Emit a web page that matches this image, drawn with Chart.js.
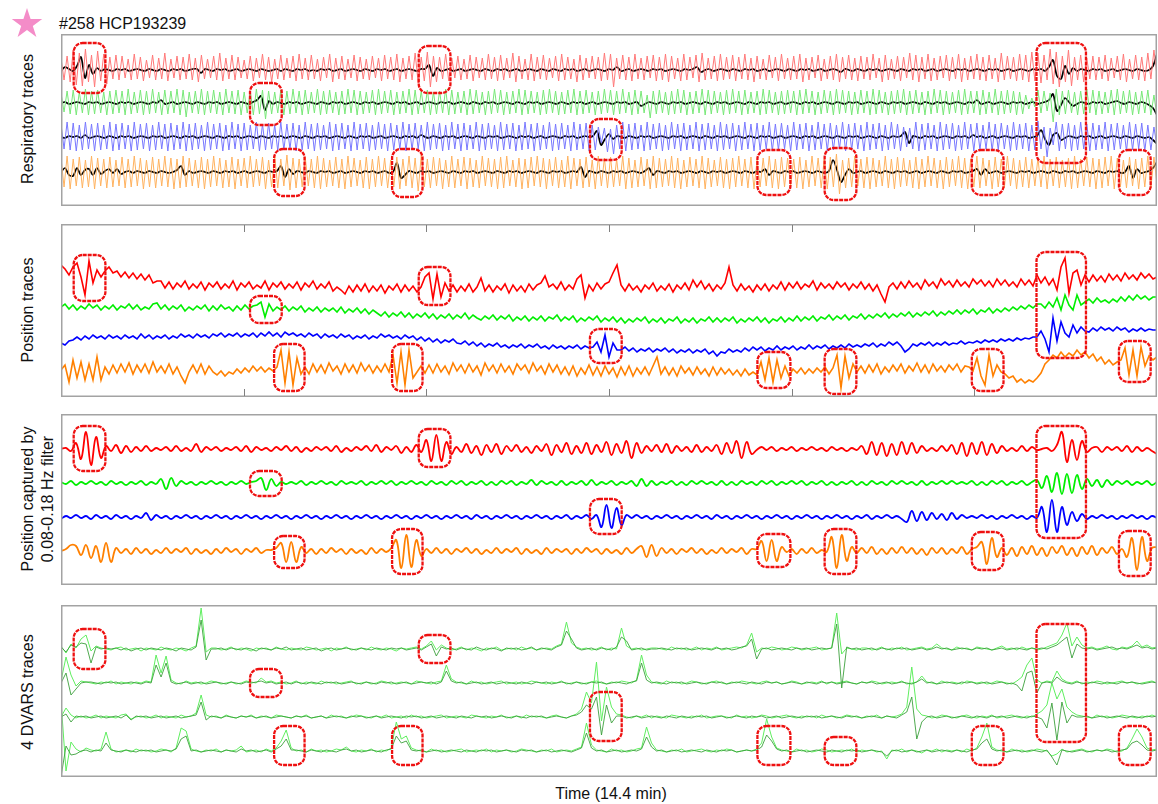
<!DOCTYPE html>
<html>
<head>
<meta charset="utf-8">
<title>HCP193239 traces</title>
<script src="https://cdn.jsdelivr.net/npm/chart.js@4.4.1/dist/chart.umd.min.js"></script>
<style>
  body { margin: 0; background: #fff; width: 1158px; height: 804px; position: relative; overflow: hidden;
         font-family: "Liberation Sans", Arial, Helvetica, sans-serif; color: #111; }
  .panel { position: absolute; left: 61px; width: 1096px; }
  .panel canvas { display: block; }
  .ylab { position: absolute; white-space: nowrap; font-size: 16px; line-height: 16px; text-align: center;
          transform: translate(-50%, -50%) rotate(-90deg); }
  .ylab.two { line-height: 20px; }
  #title { position: absolute; left: 59px; top: 16px; font-size: 16px; line-height: 16px; }
  #xlab { position: absolute; left: 611px; top: 786px; font-size: 16px; line-height: 16px;
          transform: translateX(-50%); white-space: nowrap; }
  #star { position: absolute; left: 0; top: 0; }
</style>
</head>
<body>
<svg id="star" width="50" height="45"><polygon fill="#f48cc8" points="27,8 30.59,19.06 42.22,19.06 32.8,25.88 36.4,36.94 27,30.1 17.6,36.94 21.2,25.88 11.78,19.06 23.41,19.06"/></svg>
<div id="title">#258 HCP193239</div>

<div class="panel" style="top:34px;height:172px"><canvas id="p1" width="1096" height="172"></canvas></div>
<div class="panel" style="top:224px;height:173px"><canvas id="p2" width="1096" height="173"></canvas></div>
<div class="panel" style="top:414px;height:171px"><canvas id="p3" width="1096" height="171"></canvas></div>
<div class="panel" style="top:605px;height:172px"><canvas id="p4" width="1096" height="172"></canvas></div>

<div class="ylab" style="left:28px;top:119px">Respiratory traces</div>
<div class="ylab" style="left:28px;top:310px">Position traces</div>
<div class="ylab two" style="left:38px;top:499px">Position captured by<br>0.08-0.18 Hz filter</div>
<div class="ylab" style="left:28px;top:692px">4 DVARS traces</div>
<div id="xlab">Time (14.4 min)</div>

<script>
// scan length in seconds (1200 frames x 0.72 s = 14.4 min)
const TIME_MAX = 864;
const TIME_TICKS = [144, 288, 432, 576, 720];

// marked events (seconds) and which traces they cover
const EVENT_START = [10, 282, 149, 417, 769, 168, 261, 549, 602, 718, 834];
const EVENT_END   = [35, 307, 174, 442, 808, 192, 285, 575, 627, 743, 859];
const EVENT_FIRST = [0, 0, 1, 2, 0, 3, 3, 3, 3, 3, 3];
const EVENT_LAST  = [0, 0, 1, 2, 2, 3, 3, 3, 3, 3, 3];

// ---- respiratory traces (raw, peak / trough per breath) ----
const RESP_RED = [
12,-10,14,-12,20,-15,17,-16,21,-12,15,-17,19,-11,16,-14,13,-9,15,-10,
14,-8,11,-10,16,-9,13,-11,10,-8,15,-10,12,-9,17,-11,11,-8,14,-10,
13,-9,16,-10,12,-12,15,-9,11,-8,14,-10,17,-11,12,-9,15,-10,13,-8,
10,-9,14,-11,12,-8,16,-10,13,-12,11,-9,15,-10,12,-8,14,-11,16,-9,
12,-10,15,-9,11,-11,13,-8,16,-12,12,-9,14,-10,11,-8,15,-11,13,-9,
11,-10,14,-8,12,-11,15,-9,13,-10,16,-12,12,-9,14,-10,17,-13,13,-11,
18,-17,14,-12,13,-9,16,-11,12,-8,14,-10,11,-9,15,-11,13,-8,12,-10,
16,-9,13,-11,15,-10,12,-8,17,-12,14,-9,11,-10,16,-11,13,-9,15,-10,
12,-8,14,-11,16,-10,13,-9,11,-12,15,-10,12,-8,14,-9,13,-11,17,-10,
16,-17,12,-9,15,-10,13,-11,16,-9,12,-10,14,-8,15,-11,13,-10,16,-12,
14,-9,12,-11,16,-10,13,-8,15,-12,17,-10,12,-9,14,-11,16,-10,13,-9,
15,-11,13,-9,16,-10,12,-12,14,-9,11,-10,15,-8,13,-11,16,-9,12,-10,
14,-9,16,-12,12,-10,13,-8,15,-11,11,-9,14,-10,16,-12,13,-9,15,-10,
12,-11,14,-9,13,-10,16,-8,12,-12,15,-10,11,-9,14,-11,13,-8,17,-10,
15,-12,13,-9,16,-11,12,-10,14,-8,15,-11,13,-9,16,-12,12,-10,14,-9,
16,-10,13,-11,15,-9,12,-12,17,-10,14,-9,13,-11,16,-10,15,-12,18,-11,
17,-13,15,-10,21,-14,18,-17,14,-12,20,-16,13,-10,15,-12,12,-9,14,-10,
13,-9,15,-11,12,-8,14,-10,16,-12,11,-9,15,-10,13,-11,17,-9,20,-6
];
const RESP_GREEN = [
10,-9,12,-11,13,-12,11,-10,14,-12,12,-11,13,-10,11,-12,12,-11,13,-10,
12,-12,14,-11,11,-10,13,-12,12,-11,14,-10,11,-12,13,-11,12,-10,14,-12,
13,-14,11,-10,12,-11,14,-12,12,-10,13,-11,11,-12,14,-10,12,-11,13,-12,
11,-10,12,-12,14,-11,13,-16,12,-11,11,-10,13,-12,12,-11,14,-10,12,-12,
13,-11,11,-10,14,-12,12,-11,13,-10,11,-12,12,-11,14,-10,13,-12,12,-11,
11,-10,13,-12,14,-11,12,-10,13,-12,11,-11,12,-10,14,-12,13,-11,12,-10,
13,-12,11,-11,12,-10,14,-12,13,-11,11,-10,12,-12,14,-11,13,-10,11,-12,
12,-11,14,-10,13,-12,11,-11,12,-10,14,-12,13,-11,12,-10,11,-12,13,-11,
14,-10,12,-12,11,-11,13,-10,14,-12,12,-11,13,-10,11,-12,12,-11,14,-10,
13,-12,12,-11,14,-10,11,-12,13,-11,12,-10,8,-15,12,-11,13,-10,11,-12,
12,-11,14,-10,13,-12,11,-11,12,-10,14,-12,13,-11,12,-10,11,-12,13,-11,
14,-10,12,-12,13,-11,11,-10,12,-12,14,-11,13,-10,11,-12,12,-11,13,-10,
12,-12,13,-11,14,-10,12,-12,11,-11,13,-10,12,-12,14,-11,13,-10,12,-12,
11,-11,13,-10,12,-12,14,-11,13,-10,11,-12,12,-11,13,-10,14,-12,12,-11,
13,-10,11,-12,12,-11,14,-10,13,-12,12,-11,11,-10,13,-12,14,-11,12,-10,
12,-12,13,-11,11,-10,14,-12,12,-11,13,-10,12,-12,11,-11,8,-6,5,-4,
13,-10,12,-8,10,-19,14,-12,12,-11,13,-10,11,-12,12,-11,14,-10,13,-12,
12,-11,11,-10,13,-12,14,-11,12,-10,13,-12,11,-11,12,-10,13,-12,8,-14
];
const RESP_BLUE = [
13,-12,15,-13,14,-14,12,-13,15,-12,13,-14,14,-13,12,-12,15,-14,13,-13,
14,-12,12,-14,15,-13,13,-12,14,-14,12,-13,15,-12,13,-14,14,-13,12,-12,
15,-14,13,-13,14,-12,12,-14,15,-13,13,-12,14,-14,12,-13,15,-12,13,-14,
14,-13,12,-12,15,-14,13,-13,14,-12,12,-14,15,-13,13,-12,14,-14,12,-13,
15,-12,13,-14,14,-13,12,-12,15,-14,13,-13,14,-12,12,-14,15,-13,13,-12,
14,-14,12,-13,15,-12,13,-14,14,-13,12,-12,15,-14,13,-13,14,-12,12,-14,
15,-13,13,-12,14,-14,12,-13,15,-12,13,-14,14,-13,12,-12,15,-14,13,-13,
14,-12,12,-14,15,-13,13,-12,14,-14,12,-13,15,-12,13,-14,14,-13,12,-12,
15,-14,13,-13,14,-12,12,-14,15,-13,13,-12,14,-14,12,-13,10,-6,9,-15,
8,-17,12,-12,15,-14,13,-13,14,-12,12,-14,15,-13,13,-12,14,-14,12,-13,
15,-12,13,-14,14,-13,12,-12,15,-14,13,-13,14,-12,12,-14,15,-13,13,-12,
14,-14,12,-13,15,-12,13,-14,14,-13,12,-12,15,-14,13,-13,14,-12,12,-14,
15,-13,13,-12,14,-14,12,-13,15,-12,13,-14,14,-13,12,-12,15,-14,13,-13,
14,-12,12,-14,15,-13,13,-12,14,-14,12,-13,15,-12,13,-14,10,-10,9,-12,
15,-14,13,-13,14,-12,12,-14,15,-13,13,-12,14,-14,12,-13,15,-12,13,-14,
14,-13,12,-12,15,-14,13,-13,14,-12,12,-14,15,-13,13,-12,14,-14,12,-13,
16,-12,10,-20,9,-8,15,-14,13,-12,14,-14,12,-13,15,-12,13,-14,14,-13,
12,-12,15,-14,13,-13,14,-12,12,-14,15,-13,13,-12,14,-14,12,-13,10,-10
];
const RESP_ORANGE = [
14,-15,16,-17,13,-14,15,-16,12,-15,16,-17,14,-14,13,-16,15,-15,12,-14,
15,-16,13,-15,16,-14,14,-17,12,-15,15,-16,13,-14,16,-15,14,-17,13,-16,
16,-15,14,-14,12,-16,15,-17,13,-15,16,-14,14,-16,12,-15,15,-17,13,-14,
14,-16,16,-15,13,-14,15,-17,12,-15,16,-16,13,-14,17,-18,14,-16,13,-15,
15,-14,13,-16,16,-17,14,-15,12,-14,15,-16,13,-17,16,-15,14,-14,12,-16,
15,-17,13,-15,16,-14,14,-16,12,-15,15,-17,13,-14,16,-16,14,-19,17,-15,
13,-16,15,-14,14,-17,12,-15,16,-16,13,-14,15,-17,14,-15,12,-16,16,-14,
14,-15,13,-17,15,-16,16,-14,12,-15,14,-17,13,-16,15,-14,16,-15,14,-17,
13,-14,15,-16,12,-15,16,-17,14,-14,13,-16,15,-15,12,-17,16,-14,14,-16,
15,-15,13,-14,16,-17,14,-16,12,-15,15,-14,13,-17,16,-16,14,-15,13,-14,
16,-16,14,-17,12,-15,15,-14,13,-16,16,-17,14,-15,12,-14,15,-16,13,-17,
14,-15,16,-14,13,-16,15,-17,12,-15,14,-14,16,-16,13,-17,15,-15,14,-14,
13,-16,15,-17,12,-15,16,-14,14,-16,13,-17,15,-15,18,-22,12,-16,14,-15,
16,-14,13,-16,15,-17,14,-15,12,-14,16,-16,13,-17,15,-15,14,-14,12,-16,
15,-17,13,-15,16,-14,14,-16,12,-17,15,-15,13,-14,16,-16,14,-17,13,-15,
16,-16,14,-14,12,-17,15,-15,13,-16,16,-14,14,-17,12,-15,15,-16,13,-14,
14,-15,16,-17,13,-14,15,-16,12,-15,14,-17,16,-16,13,-14,15,-15,14,-17,
13,-16,15,-14,16,-17,14,-15,12,-16,15,-14,13,-17,14,-15,16,-16,15,-12
];
// low-passed respiratory traces (black overlays)
const RESP_LOW_RED = [
-1,3,1,-1,4,13,-8,5,-4,2,-1,1,0,-1,1,0,1,-1,0,1,0,-1,1,0,-1,
1,0,-1,1,0,1,-1,0,1,1,-3,1,0,-1,1,0,1,-1,0,1,-1,0,1,0,-1,
1,0,-1,0,1,-1,1,0,-1,1,0,1,-1,0,-1,1,0,1,-1,0,1,-1,0,1,0,
-1,1,0,-1,1,0,1,-1,0,1,-1,0,1,0,-1,1,1,5,-6,2,-1,0,1,-1,0,
1,-1,0,1,0,-1,1,0,-1,1,0,1,-1,0,1,-1,0,1,0,-1,1,0,-1,1,0,
-1,1,0,1,-1,0,1,-1,0,1,0,-1,1,0,3,-1,0,1,-1,0,1,0,-1,1,0,
1,-1,0,1,0,-1,1,0,1,3,-2,0,1,-1,0,1,0,-1,1,0,-1,1,0,1,-1,
0,1,-1,0,1,0,-1,1,0,-1,1,0,1,-1,0,1,-1,0,1,0,-2,1,0,-1,1,
0,-1,1,0,1,-1,0,1,0,-1,1,0,-1,1,0,1,-1,0,1,-1,0,1,0,-1,1,
0,1,-1,0,1,0,-1,1,0,1,-1,0,1,-1,0,1,0,-1,1,0,1,-1,3,10,-6,
-9,4,-4,2,-1,1,0,-1,1,0,1,-1,0,1,-1,0,1,0,-1,1,0,-1,0,4,16
];
const RESP_LOW_GREEN = [
0,1,-1,0,1,0,-1,1,0,1,-1,0,1,0,-1,1,0,1,-1,0,1,0,-1,1,0,
3,-1,0,1,-1,0,1,0,-1,1,0,-1,1,0,1,-1,0,1,0,-1,1,0,-1,1,3,
7,-7,2,-1,1,0,-1,1,0,1,-1,0,1,0,-1,1,0,-1,1,0,1,-1,0,1,0,
-1,1,0,1,-1,0,1,0,-1,1,0,1,-1,0,1,-1,0,1,0,-1,1,0,1,-1,0,
1,0,-1,1,0,-1,1,0,1,-1,0,1,0,-1,1,0,-1,1,0,1,-1,0,1,0,-1,
1,0,-1,1,0,1,-1,0,1,-1,0,1,0,-1,1,0,1,-1,0,1,-3,-1,1,0,-1,
1,0,-1,1,0,1,-1,0,1,0,-1,1,0,-1,1,0,1,-1,0,1,0,-1,1,0,-1,
1,0,1,-1,0,1,-1,0,1,0,-1,1,0,1,-1,0,1,0,-1,1,0,-1,1,0,1,
-1,0,1,0,-1,1,0,-1,1,0,1,-1,0,1,0,-1,1,0,-1,1,0,1,-1,0,1,
0,-1,1,0,3,-1,0,1,-1,0,1,0,-1,1,0,1,-1,0,1,-1,0,1,3,9,-8,
-2,5,1,-3,-1,1,0,-1,1,0,1,-1,0,1,2,0,-1,1,0,-1,1,0,-2,-5,-12
];
const RESP_LOW_BLUE = [
0,-1,1,0,1,-1,2,-1,0,1,0,-1,1,0,-1,1,0,1,-1,0,1,0,-1,1,0,
1,-1,0,1,0,-1,1,0,1,-1,0,1,0,-1,1,0,-1,1,0,1,-1,0,1,0,-1,
1,0,-1,1,0,1,-1,0,1,0,-1,1,0,-1,1,0,1,-1,0,1,0,-1,1,0,-1,
1,0,1,-1,0,1,-1,0,1,0,-1,1,0,1,-1,2,0,-1,1,0,-1,1,0,1,-1,
0,1,0,-1,1,0,-1,1,0,1,-1,0,1,0,-1,1,0,1,-1,0,1,-1,0,1,0,
-1,1,0,1,-1,0,1,0,1,6,-8,-2,3,-2,1,0,-1,1,0,-1,1,0,1,-1,0,
1,0,-1,1,0,1,-1,0,1,0,-1,1,0,-1,1,0,1,-1,0,1,0,-1,1,0,-1,
1,0,1,-1,0,1,-1,0,1,0,-1,1,0,1,-1,0,1,0,-1,1,0,-1,1,0,1,
-1,0,1,0,-1,1,0,-1,1,0,1,5,-6,1,0,-1,1,0,1,-1,0,1,0,-1,1,
0,1,-1,2,0,1,-1,0,1,-1,0,1,0,-1,1,0,1,-1,0,1,7,-2,-8,2,4,
-3,-1,1,0,-1,1,0,1,-1,0,1,-1,0,1,0,-1,1,0,-1,1,0,-1,0,-3,-7
];
const RESP_LOW_ORANGE = [
0,4,-3,-4,4,-3,2,3,-3,4,-2,1,3,-1,3,-2,0,1,-1,1,0,-1,1,0,-1,
1,0,-1,0,2,6,-3,1,-1,0,1,0,-1,1,0,-1,1,0,1,-1,0,1,-1,0,1,
0,-1,1,0,1,6,-5,3,-2,1,0,-1,1,0,-1,1,0,1,-1,0,1,-1,0,1,0,
-1,1,0,1,-1,0,1,-1,0,9,-6,-3,1,0,-1,1,0,1,-1,0,1,0,-1,1,0,
-1,1,0,1,-1,0,1,0,-1,1,0,-1,1,0,1,-1,0,1,0,-1,1,0,-1,1,0,
1,-1,0,1,0,5,-5,1,0,-1,1,0,-1,1,0,1,-1,0,1,0,-1,1,4,-3,1,
0,-1,1,0,1,-1,0,1,0,-1,1,0,-1,1,0,1,-1,0,1,0,-1,1,0,-1,1,
0,3,-3,1,0,-1,1,0,1,-1,0,1,0,-1,1,0,-1,1,12,2,-10,-3,3,-1,0,
1,-1,0,1,0,-1,1,0,-1,1,0,1,-1,0,1,-1,0,1,0,-1,1,0,-1,1,0,
1,-1,0,1,3,-3,3,-1,0,1,-1,0,1,0,-1,1,0,1,-1,0,1,0,-1,1,0,
-1,1,0,1,-1,0,1,0,-1,1,0,-1,1,0,1,-1,0,6,-6,3,-1,0,1,4,10
];

// ---- head position traces ----
const POS_RED = [
0,-4,-10,-2,2,-12,-30,4,-18,-5,-12,-6,-2,-8,-6,-12,-7,-13,-8,-14,-9,-15,-10,-18,-16,
-16,-23,-17,-24,-18,-22,-16,-24,-19,-23,-17,-25,-18,-22,-17,-24,-19,-23,-16,-25,-18,-22,-17,-24,-20,-23,-16,-25,-18,-22,
-17,-24,-19,-23,-17,-25,-18,-22,-16,-24,-19,-23,-17,-26,-22,
-25,-29,-21,-27,-20,-26,-19,-27,-21,-26,-20,-28,-21,-25,-19,-27,-20,-26,-21,-27,
-22,-12,-8,-34,-9,-32,-18,-26,-20,
-27,-21,-26,-19,-27,-22,-13,-26,-20,-27,-21,-25,-19,-28,-20,-26,-21,-27,-19,-25,-20,
-18,-11,-22,-19,-24,-17,-25,-20,-24,-14,-10,-33,-20,-26,-18,-24,-19,-17,-8,0,
-20,-26,-19,-25,-21,-27,-20,-24,-18,-26,-21,-25,-19,-27,-20,-24,-18,-25,-15,-22,-16,-24,-19,-26,-20,
-24,-18,-2,-20,-26,-19,-25,-21,-27,-20,
-25,-19,-26,-20,-24,-17,-25,-18,-23,-17,-24,-19,-22,-16,-25,-18,-23,-19,-24,-17,-22,-18,-25,-19,-23,
-17,-24,-19,-26,-20,-29,-37,-22,-18,-24,
-17,-23,-16,-22,-18,-24,-15,-21,-17,-23,-14,-20,-16,-22,-15,-21,-17,-22,-14,-19,-15,-21,-16,-22,-14,-20,-15,-21,-17,-22,
-14,-20,-15,-21,-10,-18,-12,-20,-14,-25,-2,7,-28,-8,-5,-20,-10,
-17,-10,-16,-11,-17,-9,-15,-10,-16,-8,-14,-10,-15,-8,-13,-9,-14,-12
];
const POS_GREEN = [
0,3,-2,2,-3,1,-2,3,-1,2,-3,1,-2,2,-3,1,-1,3,-2,2,-3,0,-2,3,4,
-2,2,-3,1,-2,2,-4,0,-3,1,-2,2,-4,1,-3,2,-2,0,-4,1,-3,2,-2,1,
2,5,-10,3,-4,0,
-3,1,-4,0,-3,1,-5,-1,-4,0,-5,-1,-4,-1,-5,0,-6,-2,-5,-1,-6,-2,-7,-3,-6,
-9,-5,-10,-6,-9,-5,-10,-6,-11,-7,-10,-6,-11,-7,-12,-8,-11,-7,-12,-8,-11,-6,-12,-8,-11,
-13,-9,-12,-8,-13,-9,-12,-8,-14,-10,-13,-9,-14,-10,-13,-9,-14,-10,-12,-8,-14,-10,-13,-9,-15,-11,-14,-10,-13,-9,
-15,-11,-14,-10,-15,-11,-16,-12,-15,-11,-14,-10,-16,-12,-15,-11,-16,-12,-14,-10,-16,-12,-15,-11,-16,-12,-14,-10,-15,-11,
-15,-11,-14,-10,-16,-12,-15,-11,-14,-10,-15,-11,-16,-12,-14,-10,-15,-11,-14,-9,-14,-10,-13,-9,-14,-10,-12,-8,-13,-9,
-12,-8,-13,-9,-11,-7,-12,-8,-11,-7,-10,-6,-11,-7,-10,-6,-9,-5,-10,-6,-9,-5,-8,-4,-9,-5,-8,-4,-7,-3,
-7,-3,-6,-2,-7,-3,-5,-1,-6,-2,-5,-1,-4,0,-3,1,-2,2,-1,3,
3,-1,5,0,9,-3,12,2,-3,12,2,5,
8,4,9,5,7,4,8,5,10,6,11,7,12,8,11,7,10,10
];
const POS_BLUE = [
0,-2,2,3,6,3,7,4,8,5,7,4,8,5,7,4,8,5,7,4,9,5,8,4,7,
5,8,4,7,5,9,6,8,5,9,6,8,5,9,7,10,6,9,7,10,6,9,7,10,6,
10,7,11,7,10,6,11,8,10,7,9,6,10,7,9,5,9,6,8,5,9,6,8,4,7,
5,8,4,7,5,9,6,8,5,7,4,8,5,7,3,6,2,5,1,4,0,3,1,4,0,
-1,2,-2,1,-3,0,-4,-1,-3,0,-4,-2,-5,-2,-4,-1,-5,-2,-4,-1,-5,-3,-6,-2,-5,-3,-6,-3,-5,-2,-6,-3,-5,
-4,1,-9,8,-14,0,-7,
-7,-4,-8,-5,-9,-6,-8,-5,-9,-6,-8,-5,-9,-6,-10,-7,-9,-6,-10,-7,-9,-6,-11,-8,-13,-9,-10,-6,-9,-7,
-9,-5,-8,-4,-7,-4,-8,-5,-7,-3,-7,-4,-6,-3,-7,-4,-6,-2,-6,-3,-5,-2,-6,-3,-5,-2,-5,-1,-4,-2,
-4,-1,-3,0,-4,-1,-3,1,-2,1,-3,-9,-6,-1,-3,0,-2,1,-3,0,-2,1,-2,0,-1,2,-1,1,0,2,
0,3,1,3,1,4,2,4,2,5,3,5,4,6,
6,12,4,-9,25,2,21,10,6,18,10,16,12,
11,15,12,16,13,15,12,16,13,15,11,14,12,15,12,14,13,13
];
const POS_ORANGE = [
0,5,-12,10,-8,8,-10,6,-10,13,-10,3,-4,5,-3,6,-2,7,-4,5,-2,6,-3,8,-2,
4,-3,6,-4,3,-6,-13,-2,5,-3,6,-4,4,-2,-5,-1,-6,-2,-4,1,-3,2,-2,4,-1,
3,-2,2,-1,3,20,-13,18,-15,12,-4,
3,-4,6,-2,5,-3,7,-1,4,-4,6,-2,5,-3,7,-1,5,-3,4,-2,6,-2,
15,-13,18,-15,20,-8,-2,4,-3,
5,-3,6,-2,4,-4,7,-1,5,-3,6,-2,4,-5,7,-1,5,-3,6,-2,4,-4,6,0,5,-3,7,-1,4,-4,6,-2,5,
-4,3,-5,4,-6,2,-4,5,-5,3,-6,4,-4,2,-7,3,-5,4,-6,2,-4,3,-5,4,13,
-4,3,-5,2,-6,4,-3,2,-5,3,-4,1,-6,3,-5,2,-4,1,-5,0,-6,1,-5,-2,
-5,8,-10,12,-12,10,-8,4,-6,
1,-3,2,-4,1,-3,2,-2,
3,-4,2,15,-18,14,-8,6,-2,
4,-3,5,-2,6,-4,3,-2,5,-1,6,-3,4,-1,7,-2,5,-3,6,-1,4,-2,5,0,6,-2,4,
3,-1,12,-6,-15,15,-6,5,-2,
-4,-8,-6,-12,-9,-13,-10,-12,-8,
-3,6,10,15,12,18,13,17,14,20,15,18,
12,16,9,13,6,10,5,8,
10,22,-5,20,-6,23,4,14,10,13
];

// ---- position band-passed 0.08-0.18 Hz ----
const FILT_RED = [
0,1,-2,6,-10,17,-16,12,-9,3,
-2,4,-4,3,-3,2,-2,3,-2,1,-1,2,-2,3,-2,1,-2,5,-3,2,
-1,2,-2,1,-1,2,-2,3,-3,2,-1,1,-2,2,-1,3,-2,2,-3,1,-2,2,-1,2,-2,3,-3,1,-2,2,
-1,3,-2,4,-3,2,-1,3,-4,2,-3,4,
-3,9,-12,14,-12,7,-5,
2,-3,5,-4,3,-6,4,-3,5,-5,3,-2,4,-3,2,-4,3,-2,5,-6,4,-3,6,-5,3,-4,6,-5,4,-3,
7,-6,5,-4,8,-9,6,-4,3,-2,4,-3,5,-4,3,-2,2,-3,4,-3,2,-2,4,-5,6,-4,8,-9,7,-5,
-1,2,-1,2,-2,1,-1,2,-2,1,-1,2,-1,1,-2,2,-1,1,-2,1,-1,
3,-5,7,-6,6,-7,5,-6,7,-5,6,-4,3,-2,1,
-2,3,-2,4,-5,6,-7,6,-5,7,-6,5,-4,3,-2,1,-2,3,-2,2,-1,0,
1,-2,4,17,-13,9,-11,8,-3,1,
2,-3,2,-1,2,-2,3,-3,2,-2,1,-2,-5
];
const FILT_GREEN = [
1,-1,2,-2,1,-1,2,-1,1,-2,2,-1,1,-2,1,-1,2,-2,1,-1,
4,-6,5,-3,2,-1,1,-2,1,-1,
2,-1,1,-2,1,-1,2,-1,1,
2,5,-7,4,-3,1,-1,
1,-1,2,-2,1,-1,2,-1,1,-2,2,-1,1,-1,2,-2,1,-1,2,-1,2,-2,1,-1,2,-1,1,-2,2,-1,1,-2,2,-1,
2,-2,1,-1,2,-2,1,-2,2,-1,2,-2,1,-1,3,-2,2,-1,1,-2,2,-2,1,-1,2,-2,3,-2,1,-1,2,-2,1,-1,2,-3,4,-3,
2,-2,1,-1,2,-2,1,-2,2,-1,2,-1,1,-2,2,-2,1,-2,2,-1,
1,-2,2,-1,2,-2,1,-1,2,-1,2,-2,1,-1,2,-2,1,-2,1,-1,
2,-2,1,-2,2,-1,1,-2,2,-1,2,-1,1,-2,2,-2,1,-1,2,-1,
2,-1,1,-1,2,-2,1,-2,2,-1,2,-2,1,-1,2,-2,1,3,-5,
7,-9,10,-11,9,-10,8,-6,4,-3,
3,-4,3,-2,2,-1,2,-2,1,-1,2,-2,1
];
const FILT_BLUE = [
-2,1,-1,2,-1,1,-2,2,-1,1,-2,2,-1,1,-2,1,-1,4,-3,2,
-1,1,-2,1,-1,2,-1,1,-2,1,-1,2,-1,1,-2,1,-1,2,-1,1,
-2,1,-1,2,-1,1,-2,1,-1,2,-1,1,-2,1,-1,2,-1,1,-2,1,
-1,2,-1,1,-2,1,-1,2,-1,1,-2,1,-1,2,-1,1,-2,1,-1,2,
-1,1,-2,2,-1,1,-2,1,-1,2,-1,1,-2,1,-1,2,-1,1,-2,1,
-1,2,-2,1,-1,2,-2,
2,-10,12,-11,9,-8,2,
-1,2,-1,1,-2,1,-1,2,-1,1,-2,1,-1,2,-1,1,-2,2,-1,1,
-2,1,-1,2,-1,1,-2,1,-1,2,-1,1,-2,1,-1,2,-1,1,-2,1,
-1,2,-1,1,-2,1,-1,2,-2,1,-1,2,-1,1,-2,
-5,6,-4,5,-3,4,-2,3,-3,4,-2,2,-1,
1,-1,2,-1,1,-2,1,-1,2,-1,1,-2,1,-1,
10,-15,17,-15,10,-8,5,-4,3,-2,1,
-1,2,-1,1,-2,1,-1,2,-1,1,-2,1,-1
];
const FILT_ORANGE = [
0,2,6,5,-4,6,-7,5,-11,8,-11,3,-2,
2,-3,3,-2,2,-3,1,-2,3,-2,2,-1,3,-3,2,-2,1,-3,2,-2,3,-1,2,-3,2,-1,3,-2,1,
1,3,8,-11,9,-11,4,-2,
2,-3,2,-2,3,-1,2,-3,2,-2,1,-3,3,-2,2,-1,3,
11,-17,16,-16,11,-5,2,
-2,3,-2,2,-3,2,-1,3,-2,2,-3,1,-2,3,-2,2,-1,3,-3,2,-2,1,-3,3,-2,2,-1,2,-3,2,-2,3,-1,2,-3,2,-2,1,-3,3,-2,2,5,-6,
6,-5,3,-2,2,-3,2,-1,3,-2,2,-3,1,-2,3,-2,2,-1,3,-3,2,
2,10,-10,11,-10,4,-1,
2,-3,2,-2,3,-2,1,-1,
14,-17,16,-10,4,-2,
3,-2,4,-3,2,-3,3,-2,4,-2,3,-3,2,-4,3,-2,3,-3,2,-2,4,-3,2,
4,9,-13,13,-6,3,-4,
3,-5,4,-3,5,-4,3,-5,4,-2,5,-4,3,-5,4,-3,5,-4,3,-2,4,-3,
2,-6,13,-19,14,-10,3,4
];

// ---- DVARS traces (light = one version, dark = other) ----
const DVARS_1_LIGHT = [
3,-4,5,1,10,14,-2,3,1,0,
-1,1,2,-1,0,1,-2,1,0,-1,2,0,-1,1,0,-2,1,3,41,-3,1,
1,-1,0,2,-1,1,0,-2,1,0,1,-1,2,0,-1,1,0,-1,2,1,-1,0,1,-2,1,0,2,-1,0,1,-1,2,0,-1,1,0,-2,1,0,
1,2,0,3,8,-1,4,
1,-1,0,2,-1,1,0,-2,1,0,2,-1,0,1,-1,2,0,1,-1,0,1,0,3,5,27,6,2,0,1,-1,0,2,-1,1,0,21,3,0,1,-1,0,1,
1,0,-1,2,0,1,-1,0,2,-1,1,0,2,-1,0,1,2,1,4,16,-3,1,0,2,1,-1,0,2,1,-1,0,1,2,-1,0,1,36,-5,1,0,-1,1,
1,-1,0,2,-1,1,0,2,-1,0,1,2,0,1,5,1,0,-1,2,0,1,-1,2,1,0,-1,1,3,0,1,-1,2,0,1,-1,0,2,4,6,14,26,3,12,4,1,2,0,1,3,0,-1,2,1,3,8,2,4,1,2
];
const DVARS_1_DARK = [
2,-3,4,2,6,5,-14,2,0,1,
0,1,-1,1,-2,0,1,-1,1,0,-1,1,0,-2,1,0,-1,2,29,-11,0,
0,1,-1,1,0,-1,1,0,-2,1,0,-1,1,0,2,-1,0,1,-1,0,1,-2,0,1,-1,0,1,0,-1,1,0,-1,1,0,-1,1,0,1,-1,
0,1,-1,2,5,-7,2,
0,1,-1,1,0,-1,2,0,-1,1,0,-2,1,0,1,-1,0,2,-1,1,0,-1,2,4,18,10,1,-1,0,1,-1,1,0,-1,2,12,8,-1,0,1,-1,0,
0,1,0,-1,1,0,1,-1,0,1,0,-1,1,0,1,-1,0,2,3,10,-10,0,1,-1,0,1,0,-1,1,0,1,-1,0,1,0,1,25,-39,2,0,1,-1,
0,1,-1,1,0,-1,1,0,1,-1,0,1,-1,0,2,0,1,-1,0,1,0,-1,1,0,1,-1,0,1,-1,0,1,0,-1,1,0,1,0,2,4,8,12,-9,5,1,0,1,-1,0,1,2,0,1,0,2,4,1,2,0,1
];
const DVARS_2_LIGHT = [
2,26,8,-3,2,1,
0,-1,1,0,2,-1,1,0,-1,1,0,2,1,
28,10,27,
3,0,-1,2,0,1,-1,0,2,1,-1,0,1,-1,0,2,1,0,
5,1,2,0,
1,-1,0,2,-1,1,0,-1,2,0,1,-1,0,1,2,-1,0,1,-1,0,2,1,-1,0,1,0,-1,2,1,0,-1,1,2,
18,4,
1,0,-1,2,0,1,-1,0,1,2,-1,0,1,-1,0,2,1,0,-1,1,0,2,-1,0,1,-1,0,1,2,0,-1,1,0,2,1,0,3,
28,8,
1,0,-1,2,0,1,-1,0,2,1,-1,0,1,2,0,-1,1,0,2,1,0,-1,1,2,0,1,-1,0,2,1,
-1,0,1,0,2,-1,1,0,1,2,0,-1,1,0,2,1,-1,0,1,0,2,-1,0,1,7,1,0,-1,2,0,
1,0,-1,2,1,0,1,-1,0,2,1,0,-1,2,6,18,
25,3,0,2,1,12,4,1,0,2,-1,1,0,2,1,-1,0,1,2,0,1,-1,0,1,2,0
];
const DVARS_2_DARK = [
0,10,-12,-6,0,1,
1,0,-1,1,0,1,-1,0,1,0,-1,1,0,
18,6,20,
1,-1,0,1,-1,0,1,-1,0,1,0,-1,1,0,-1,1,0,1,
2,0,1,-1,
0,1,-1,1,0,-1,1,0,-1,1,0,1,-1,0,1,0,-1,1,0,-1,1,0,1,-1,0,1,-1,0,1,0,1,-1,1,
12,2,
0,1,-1,0,1,-1,0,1,-1,0,1,0,-1,1,0,-1,1,0,1,-1,0,1,0,-1,1,0,-1,1,0,1,-1,0,1,0,-1,1,2,
20,3,
0,1,0,-1,1,0,1,-1,0,1,0,-1,1,0,1,-1,0,1,0,-1,1,0,-1,1,0,1,-1,0,1,0,
-1,1,0,-1,1,0,1,-1,0,1,0,-1,1,0,1,-1,0,1,-1,0,1,0,-1,1,4,0,1,-1,0,1,
0,-1,1,0,1,-1,0,1,-1,0,1,-1,0,-2,-8,10,
12,-10,0,1,0,6,2,0,-1,1,0,-1,1,0,-1,1,0,-1,1,0,1,0,-1,0,1,0
];
const DVARS_3_LIGHT = [
0,9,2,-1,
1,-1,0,2,-1,1,0,-1,2,3,-2,0,1,-1,0,2,-1,1,0,-1,2,0,1,
4,22,2,
0,1,-1,2,0,-1,1,0,2,-1,1,0,-1,2,1,0,-1,1,0,2,-1,0,1,-1,2,0,1,-1,0,2,1,0,-1,1,0,2,-1,0,1,-1,
2,0,1,-1,0,1,2,-1,0,1,0,-1,2,1,0,-1,1,0,2,-1,0,1,-1,2,0,1,0,-1,1,2,0,-1,1,3,8,
25,14,55,-4,30,10,3,
2,0,-1,1,0,2,-1,1,0,-1,2,1,0,-1,1,0,2,-1,0,1,1,0,-1,2,0,1,-1,0,2,1,
-1,0,1,2,0,-1,1,0,1,-1,2,0,1,-1,0,2,1,0,-1,1,0,2,-1,1,0,1,3,10,
50,8,2,
1,-1,0,2,1,0,-1,1,2,0,-1,1,0,2,-1,0,1,2,0,-1,1,0,3,6,
12,34,18,28,10,5,2,
1,0,-1,2,0,1,-1,0,2,1,0,-1,1,0,2,0
];
const DVARS_3_DARK = [
0,3,-5,1,
0,1,-1,0,1,-1,0,1,-1,2,-3,1,0,1,-1,0,1,-1,0,1,-1,0,1,
2,15,-3,
1,0,-1,1,0,-1,1,0,1,-1,0,1,-1,0,1,0,-1,1,0,1,-1,0,1,-1,0,1,0,-1,1,0,1,-1,0,1,-1,0,1,0,-1,1,
0,1,-1,0,1,-1,0,1,0,-1,1,0,-1,1,0,1,-1,0,1,0,-1,1,0,-1,1,0,1,-1,0,1,0,-1,1,2,5,
12,8,20,-18,12,-6,1,
1,-1,0,1,-1,0,1,0,-1,1,0,-1,1,0,-1,1,0,1,-1,0,1,-1,0,1,0,-1,1,0,1,-1,
0,1,-1,0,1,0,-1,1,0,1,-1,0,1,0,-1,1,0,1,-1,0,1,0,-1,1,0,-1,2,5,
20,-22,-5,
0,1,-1,0,1,-1,0,1,0,-1,1,0,-1,1,0,1,-1,0,1,0,-1,1,0,-2,
-11,14,-23,15,-6,2,0,
0,1,-1,0,1,-1,0,1,0,-1,1,0,-1,1,0,1
];
const DVARS_4_LIGHT = [
50,-20,9,2,-1,3,1,0,2,
19,
2,-1,0,1,-1,2,0,1,-1,0,2,1,-1,3,
23,20,
2,0,-1,1,0,2,-1,1,0,1,5,-1,0,1,-1,2,0,3,
10,21,3,
0,1,-1,2,0,1,-1,0,2,1,4,0,-1,1,0,2,-1,1,0,3,
29,12,15,3,
1,0,-1,2,0,1,-1,0,1,2,-1,0,1,0,2,-1,1,0,1,-1,0,2,1,0,-1,1,0,2,-1,0,1,0,2,4,
28,6,
1,0,-1,2,0,1,-1,0,2,3,
24,8,
1,0,-1,1,0,2,-1,0,1,2,0,-1,1,0,2,1,-1,0,1,0,2,8,
32,14,
3,1,0,-1,2,0,1,-1,0,2,1,-1,0,1,0,2,-1,1,0,1,-1,0,
-8,
1,0,2,-1,1,0,-2,1,0,2,-1,1,0,1,-1,2,0,3,
14,28,
4,1,0,-1,2,0,1,-1,0,2,1,0,-5,
-3,
2,-1,0,1,2,0,-1,1,0,2,1,-1,0,3,
12,22,14,
3,1,2
];
const DVARS_4_DARK = [
-26,5,-4,-3,0,1,-1,1,0,
8,
1,0,-1,1,0,-1,1,0,1,-1,0,1,0,2,
12,15,
0,1,-1,0,1,0,-1,1,0,-1,2,0,1,-1,0,1,-1,2,
5,12,1,
1,0,-1,1,0,-1,1,0,-1,1,2,0,1,-1,0,1,0,-1,1,2,
15,8,10,1,
0,1,-1,0,1,-1,0,1,0,-1,1,0,-1,1,0,1,-1,0,1,0,-1,1,0,1,-1,0,1,-1,0,1,0,-1,1,3,
18,3,
0,1,-1,0,1,-1,0,1,0,2,
14,4,
0,1,-1,0,1,-1,0,1,0,-1,1,0,-1,1,0,1,-1,0,1,0,1,4,
16,10,
2,0,1,-1,0,1,-1,0,1,0,-1,1,0,-1,1,0,1,-1,0,1,0,-1,
-5,
0,1,-1,0,1,-1,0,1,-1,0,1,0,-1,1,0,-1,1,2,
8,12,
2,0,1,-1,0,1,-1,0,1,0,-1,1,-6,
-14,
1,0,-1,0,1,-1,0,1,0,1,-1,0,1,2,
8,10,6,
1,0,1
];

// vertical offsets of each trace inside its panel (panel units, bottom = 0)
const RESP_OFFSETS = [136, 103, 69, 34];
const POS_OFFSETS = [132, 90, 54, 27];
const FILT_OFFSETS = [136, 102, 68, 34];
const DVARS_OFFSETS = [128, 94, 60, 26];

function series(values, base) {
  const step = TIME_MAX / (values.length - 1);
  return values.map((v, i) => ({ x: i * step, y: base + v }));
}

function line(values, base, trace, color, width, tension) {
  return {
    data: series(values, base),
    trace: trace,
    borderColor: color,
    borderWidth: width,
    pointRadius: 0,
    tension: tension || 0,
    fill: false
  };
}

// frame, inner ticks and the red event boxes
function panelPlugin(cfg) {
  return {
    id: 'panelDecor',
    afterDatasetsDraw(chart) {
      const ctx = chart.ctx, xs = chart.scales.x, ys = chart.scales.y;
      ctx.save();
      ctx.strokeStyle = '#ee1010';
      ctx.lineWidth = 2.3;
      ctx.setLineDash([4, 1]);
      EVENT_START.forEach((t0, k) => {
        const t1 = EVENT_END[k], a = EVENT_FIRST[k], b = EVENT_LAST[k];
        let hi = -Infinity, lo = Infinity;
        chart.data.datasets.forEach(ds => {
          ds.data.forEach(p => {
            if (p.x < t0 || p.x > t1) return;
            if (ds.trace === a) hi = Math.max(hi, p.y);
            if (ds.trace === b) lo = Math.min(lo, p.y);
          });
        });
        const baseA = cfg.offsets[a], baseB = cfg.offsets[b];
        hi = Math.min(Math.max(hi + cfg.pad, baseA + cfg.minHalf), baseA + cfg.maxHalf);
        lo = Math.max(Math.min(lo - cfg.pad, baseB - cfg.minHalf), baseB - cfg.maxHalf);
        const x0 = xs.getPixelForValue(t0), x1 = xs.getPixelForValue(t1);
        const y0 = ys.getPixelForValue(hi), y1 = ys.getPixelForValue(lo);
        ctx.beginPath();
        ctx.roundRect(x0, y0, x1 - x0, y1 - y0, 9);
        ctx.stroke();
      });
      ctx.restore();
    },
    afterDraw(chart) {
      const ctx = chart.ctx, w = chart.width, h = chart.height;
      ctx.save();
      ctx.strokeStyle = '#a3a3a3';
      ctx.lineWidth = 1.5;
      ctx.strokeRect(0.75, 0.75, w - 1.5, h - 1.5);
      if (cfg.ticks) {
        ctx.strokeStyle = '#808080';
        ctx.lineWidth = 1;
        TIME_TICKS.forEach(t => {
          const x = Math.round(chart.scales.x.getPixelForValue(t)) + 0.5;
          ctx.beginPath();
          ctx.moveTo(x, 1); ctx.lineTo(x, 8);
          ctx.moveTo(x, h - 1); ctx.lineTo(x, h - 8);
          ctx.stroke();
        });
      }
      ctx.restore();
    }
  };
}

function makePanel(id, height, datasets, cfg) {
  new Chart(document.getElementById(id), {
    type: 'line',
    data: { datasets: datasets },
    options: {
      animation: false,
      responsive: false,
      events: [],
      layout: { padding: 0 },
      plugins: { legend: { display: false }, tooltip: { enabled: false } },
      scales: {
        x: { type: 'linear', min: 0, max: TIME_MAX, display: false },
        y: { type: 'linear', min: 0, max: height, display: false }
      }
    },
    plugins: [panelPlugin(cfg)]
  });
}

makePanel('p1', 172, [
  line(RESP_RED, RESP_OFFSETS[0], 0, 'rgb(255,120,120)', 1),
  line(RESP_GREEN, RESP_OFFSETS[1], 1, 'rgb(120,232,120)', 1),
  line(RESP_BLUE, RESP_OFFSETS[2], 2, 'rgb(120,120,255)', 1),
  line(RESP_ORANGE, RESP_OFFSETS[3], 3, 'rgb(255,178,95)', 1),
  line(RESP_LOW_RED, RESP_OFFSETS[0], 0, '#000', 1.7, 0.3),
  line(RESP_LOW_GREEN, RESP_OFFSETS[1], 1, '#000', 1.7, 0.3),
  line(RESP_LOW_BLUE, RESP_OFFSETS[2], 2, '#000', 1.7, 0.3),
  line(RESP_LOW_ORANGE, RESP_OFFSETS[3], 3, '#000', 1.7, 0.3)
], { offsets: RESP_OFFSETS, pad: 6, minHalf: 0, maxHalf: 40, ticks: false });

makePanel('p2', 173, [
  line(POS_RED, POS_OFFSETS[0], 0, '#ff0000', 1.6),
  line(POS_GREEN, POS_OFFSETS[1], 1, '#00ee00', 1.6),
  line(POS_BLUE, POS_OFFSETS[2], 2, '#0000ff', 1.6),
  line(POS_ORANGE, POS_OFFSETS[3], 3, '#ff8000', 1.6)
], { offsets: POS_OFFSETS, pad: 6, minHalf: -999, maxHalf: 999, ticks: true });

makePanel('p3', 171, [
  line(FILT_RED, FILT_OFFSETS[0], 0, '#ff0000', 1.8, 0.4),
  line(FILT_GREEN, FILT_OFFSETS[1], 1, '#00ee00', 1.8, 0.4),
  line(FILT_BLUE, FILT_OFFSETS[2], 2, '#0000ff', 1.8, 0.4),
  line(FILT_ORANGE, FILT_OFFSETS[3], 3, '#ff8000', 1.8, 0.4)
], { offsets: FILT_OFFSETS, pad: 6, minHalf: 12, maxHalf: 40, ticks: false });

makePanel('p4', 172, [
  line(DVARS_1_DARK, DVARS_OFFSETS[0], 0, 'rgb(60,160,60)', 0.9),
  line(DVARS_1_LIGHT, DVARS_OFFSETS[0], 0, 'rgb(95,238,95)', 1),
  line(DVARS_2_DARK, DVARS_OFFSETS[1], 1, 'rgb(60,160,60)', 0.9),
  line(DVARS_2_LIGHT, DVARS_OFFSETS[1], 1, 'rgb(95,238,95)', 1),
  line(DVARS_3_DARK, DVARS_OFFSETS[2], 2, 'rgb(60,160,60)', 0.9),
  line(DVARS_3_LIGHT, DVARS_OFFSETS[2], 2, 'rgb(95,238,95)', 1),
  line(DVARS_4_DARK, DVARS_OFFSETS[3], 3, 'rgb(60,160,60)', 0.9),
  line(DVARS_4_LIGHT, DVARS_OFFSETS[3], 3, 'rgb(95,238,95)', 1)
], { offsets: DVARS_OFFSETS, pad: 6, minHalf: 14, maxHalf: 25, ticks: false });
</script>
</body>
</html>
